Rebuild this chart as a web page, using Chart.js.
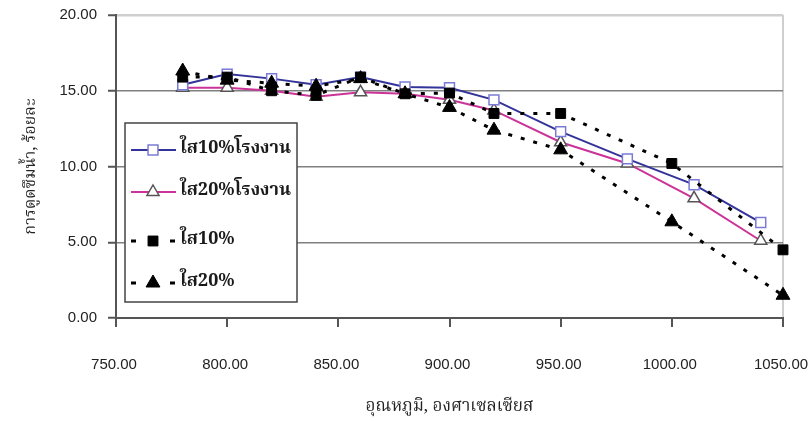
<!DOCTYPE html>
<html>
<head>
<meta charset="utf-8">
<title>การดูดซึมน้ำ</title>
<script src="https://cdn.jsdelivr.net/npm/chart.js@4/dist/chart.umd.min.js"></script>
<style>
    html, body { margin: 0; padding: 0; background: #fff; }
    #wrap { width: 810px; height: 421px; }
</style>
</head>
<body>
<div id="wrap"><canvas id="absorbChart" width="810" height="421"></canvas></div>
<script>
// Firing temperature (deg C) for each series
const tempFactory = [780, 800, 820, 840, 860, 880, 900, 920, 950, 980, 1010, 1040];
const tempLab = [780, 800, 820, 840, 860, 880, 900, 920, 950, 1000, 1050];

// Water absorption, percent
const absorb10Factory = [15.4, 16.1, 15.8, 15.4, 15.9, 15.25, 15.2, 14.4, 12.3, 10.5, 8.8, 6.3];
const absorb20Factory = [15.2, 15.2, 15.0, 14.6, 14.9, 14.8, 14.4, 13.7, 11.6, 10.2, 7.9, 5.1];
const absorb10 = [15.9, 15.9, 15.0, 14.7, 15.9, 14.8, 14.85, 13.5, 13.5, 10.2, 4.5];
const absorb20 = [16.3, 15.7, 15.5, 15.3, 15.8, 14.8, 13.9, 12.4, 11.1, 6.35, 1.5];

const seriesLabels = ['ใส10%โรงงาน', 'ใส20%โรงงาน', 'ใส10%', 'ใส20%'];

const xTicks = [750, 800, 850, 900, 950, 1000, 1050];
const yTicks = [0, 5, 10, 15, 20];

const toPoints = (xs, ys) => xs.map((x, i) => ({ x: x, y: ys[i] }));

const thaiFont = '"Noto Serif Thai", "Noto Sans Thai", "Tlwg Typo", "Garuda", serif';

// draws a square or triangle marker, shared by chart points and the legend box
function drawMarker(ctx, style, x, y, r, fill, stroke, lw) {
    ctx.save();
    ctx.beginPath();
    if (style === 'rect') {
        const s = r * Math.SQRT1_2;
        ctx.rect(x - s, y - s, 2 * s, 2 * s);
    } else {
        const h = r * 0.5;
        ctx.moveTo(x, y - r);
        ctx.lineTo(x + r * 0.866, y + h);
        ctx.lineTo(x - r * 0.866, y + h);
        ctx.closePath();
    }
    ctx.fillStyle = fill;
    ctx.fill();
    ctx.lineWidth = lw;
    ctx.strokeStyle = stroke;
    ctx.stroke();
    ctx.restore();
}

// boxed legend sitting inside the plot, lower left
const legendBox = {
    id: 'legendBox',
    afterDatasetsDraw(chart) {
        const ctx = chart.ctx;
        const area = chart.chartArea;
        const bx = area.left + 9, by = area.top + 108, bw = 172, bh = 179;
        const rows = [27, 69, 118, 160];

        ctx.save();
        ctx.fillStyle = '#fff';
        ctx.fillRect(bx, by, bw, bh);
        ctx.lineWidth = 1.5;
        ctx.strokeStyle = '#444';
        ctx.strokeRect(bx, by, bw, bh);

        chart.data.datasets.forEach((ds, i) => {
            const y = by + rows[i];
            const x0 = bx + 6, x1 = bx + 50, xm = bx + 28;
            ctx.save();
            ctx.beginPath();
            ctx.strokeStyle = ds.borderColor;
            ctx.lineWidth = ds.borderWidth;
            if (ds.borderDash) ctx.setLineDash([5, 34]);
            ctx.moveTo(x0, y);
            ctx.lineTo(x1 + 1, y);
            ctx.stroke();
            ctx.restore();
            drawMarker(ctx, ds.pointStyle, xm, y, ds.pointRadius, ds.pointBackgroundColor,
                ds.pointBorderColor, ds.pointBorderWidth);

            ctx.fillStyle = '#1a1a1a';
            ctx.font = 'bold 18px ' + thaiFont;
            ctx.textBaseline = 'middle';
            ctx.fillText(ds.label, bx + 55, y);
        });
        ctx.restore();
    }
};

const ctx = document.getElementById('absorbChart').getContext('2d');

new Chart(ctx, {
    type: 'line',
    data: {
        datasets: [
            {
                label: seriesLabels[0],
                data: toPoints(tempFactory, absorb10Factory),
                borderColor: '#333399',
                borderWidth: 2,
                pointStyle: 'rect',
                pointRadius: 7,
                pointBackgroundColor: '#fff',
                pointBorderColor: '#7b7bd6',
                pointBorderWidth: 1.5,
                order: 3
            },
            {
                label: seriesLabels[1],
                data: toPoints(tempFactory, absorb20Factory),
                borderColor: '#cc3399',
                borderWidth: 2,
                pointStyle: 'triangle',
                pointRadius: 7,
                pointBackgroundColor: '#fff',
                pointBorderColor: '#555',
                pointBorderWidth: 1.5,
                order: 4
            },
            {
                label: seriesLabels[2],
                data: toPoints(tempLab, absorb10),
                borderColor: '#000',
                borderWidth: 3,
                borderDash: [4, 9],
                pointStyle: 'rect',
                pointRadius: 7,
                pointBackgroundColor: '#000',
                pointBorderColor: '#000',
                pointBorderWidth: 1,
                order: 2
            },
            {
                label: seriesLabels[3],
                data: toPoints(tempLab, absorb20),
                borderColor: '#000',
                borderWidth: 3,
                borderDash: [4, 9],
                pointStyle: 'triangle',
                pointRadius: 8,
                pointBackgroundColor: '#000',
                pointBorderColor: '#000',
                pointBorderWidth: 1,
                order: 1
            }
        ]
    },
    options: {
        responsive: false,
        animation: false,
        devicePixelRatio: 1,
        clip: false,
        layout: { padding: { left: 0, top: 15, right: 0, bottom: 0 } },
        plugins: {
            legend: { display: false },
            tooltip: { enabled: false }
        },
        elements: { line: { tension: 0 } },
        scales: {
            x: {
                type: 'linear',
                min: xTicks[0],
                max: xTicks[xTicks.length - 1],
                afterBuildTicks: (scale) => { scale.ticks = xTicks.map(v => ({ value: v })); },
                afterFit: (scale) => {
                    scale.height = 103;
                    scale.paddingLeft = 0;
                    scale.paddingRight = 27;
                },
                ticks: {
                    padding: 29,
                    labelOffset: -2,
                    color: '#222',
                    font: { family: '"Liberation Sans", Arial, sans-serif', size: 15 },
                    callback: (v) => Number(v).toFixed(2)
                },
                grid: {
                    drawOnChartArea: true,
                    color: (c) => (c.tick && c.tick.value === 1050 ? '#cfcfcf' : 'rgba(0,0,0,0)'),
                    lineWidth: 2,
                    tickColor: '#555',
                    tickLength: 9,
                    tickWidth: 2
                },
                border: { display: true, color: '#555', width: 2 },
                title: {
                    display: true,
                    text: 'อุณหภูมิ, องศาเซลเซียส',
                    color: '#222',
                    font: { family: thaiFont, size: 17 },
                    padding: { top: 0, bottom: 3 }
                }
            },
            y: {
                min: yTicks[0],
                max: yTicks[yTicks.length - 1],
                afterBuildTicks: (scale) => { scale.ticks = yTicks.map(v => ({ value: v })); },
                afterFit: (scale) => {
                    scale.width = 116;
                    scale.paddingTop = 0;
                    scale.paddingBottom = 0;
                },
                ticks: {
                    padding: 11,
                    color: '#222',
                    font: { family: '"Liberation Sans", Arial, sans-serif', size: 15 },
                    callback: (v) => Number(v).toFixed(2)
                },
                grid: {
                    color: (c) => {
                        if (!c.tick) return '#808080';
                        if (c.tick.value === 20) return '#cfcfcf';
                        return '#808080';
                    },
                    lineWidth: (c) => (c.tick && c.tick.value === 20 ? 2.5 : 1.5),
                    tickColor: '#555',
                    tickLength: 8,
                    tickWidth: 2
                },
                border: { display: true, color: '#555', width: 2 },
                title: {
                    display: true,
                    text: 'การดูดซึมน้ำ, ร้อยละ',
                    color: '#222',
                    font: { family: thaiFont, size: 16 },
                    padding: { top: 23, bottom: 0 }
                }
            }
        }
    },
    plugins: [legendBox]
});
</script>
</body>
</html>
